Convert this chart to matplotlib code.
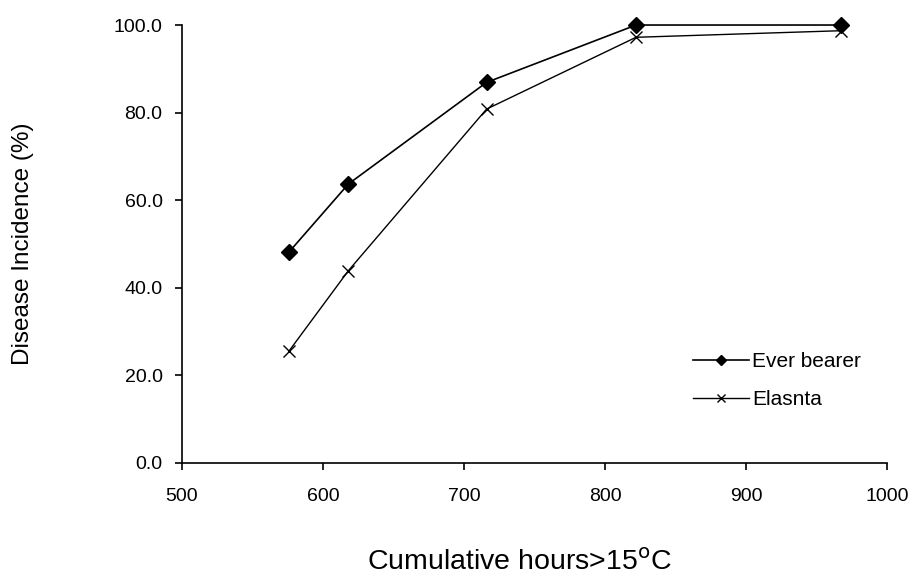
import matplotlib
matplotlib.use("Agg")
import matplotlib.pyplot as plt

hours = [576, 618, 716, 822, 967]
ever_bearer = [48.2, 63.7, 86.9, 100.0, 100.0]
elasnta = [25.6, 43.9, 80.8, 97.2, 98.7]
x_ticks = [500, 600, 700, 800, 900, 1000]
y_ticks = [0, 20, 40, 60, 80, 100]

plt.rcParams['font.family'] = ['Liberation Sans', 'DejaVu Sans']

fig = plt.figure(figsize=(9.14, 5.78), dpi=100)
ax = fig.add_axes([0.1991, 0.199, 0.7714, 0.7577])

ax.plot(hours, ever_bearer, color='black', linewidth=1.2, marker='D',
        markersize=8.5, label='Ever bearer', clip_on=False)
ax.plot(hours, elasnta, color='black', linewidth=1.0, marker='x',
        markersize=8, markeredgewidth=1.0, label='Elasnta', clip_on=False)

ax.set_xlim(500, 1000)
ax.set_ylim(0, 100)
ax.set_xticks(x_ticks)
ax.set_yticks(y_ticks)
ax.set_yticklabels([f"{v:.1f}" for v in y_ticks])
ax.tick_params(labelsize=14, direction='out', length=5, width=1.2)
ax.tick_params(axis='y', pad=9)
ax.tick_params(axis='x', pad=13)
for s in ['top', 'right']:
    ax.spines[s].set_visible(False)
for s in ['left', 'bottom']:
    ax.spines[s].set_linewidth(1.2)

ax.set_xlabel(r"Cumulative hours>15$^{\mathrm{o}}$C", fontsize=20.5)
ax.set_ylabel("Disease Incidence (%)", fontsize=17.5)
ax.xaxis.set_label_coords(0.478, -0.197)
ax.yaxis.set_label_coords(-0.21, 0.5)

ax.legend(loc='lower right', bbox_to_anchor=(0.99, 0.08), frameon=False,
          fontsize=15, handlelength=2.7, labelspacing=0.93, handletextpad=0.15,
          markerscale=0.65)

fig.savefig("out.png", dpi=100)
